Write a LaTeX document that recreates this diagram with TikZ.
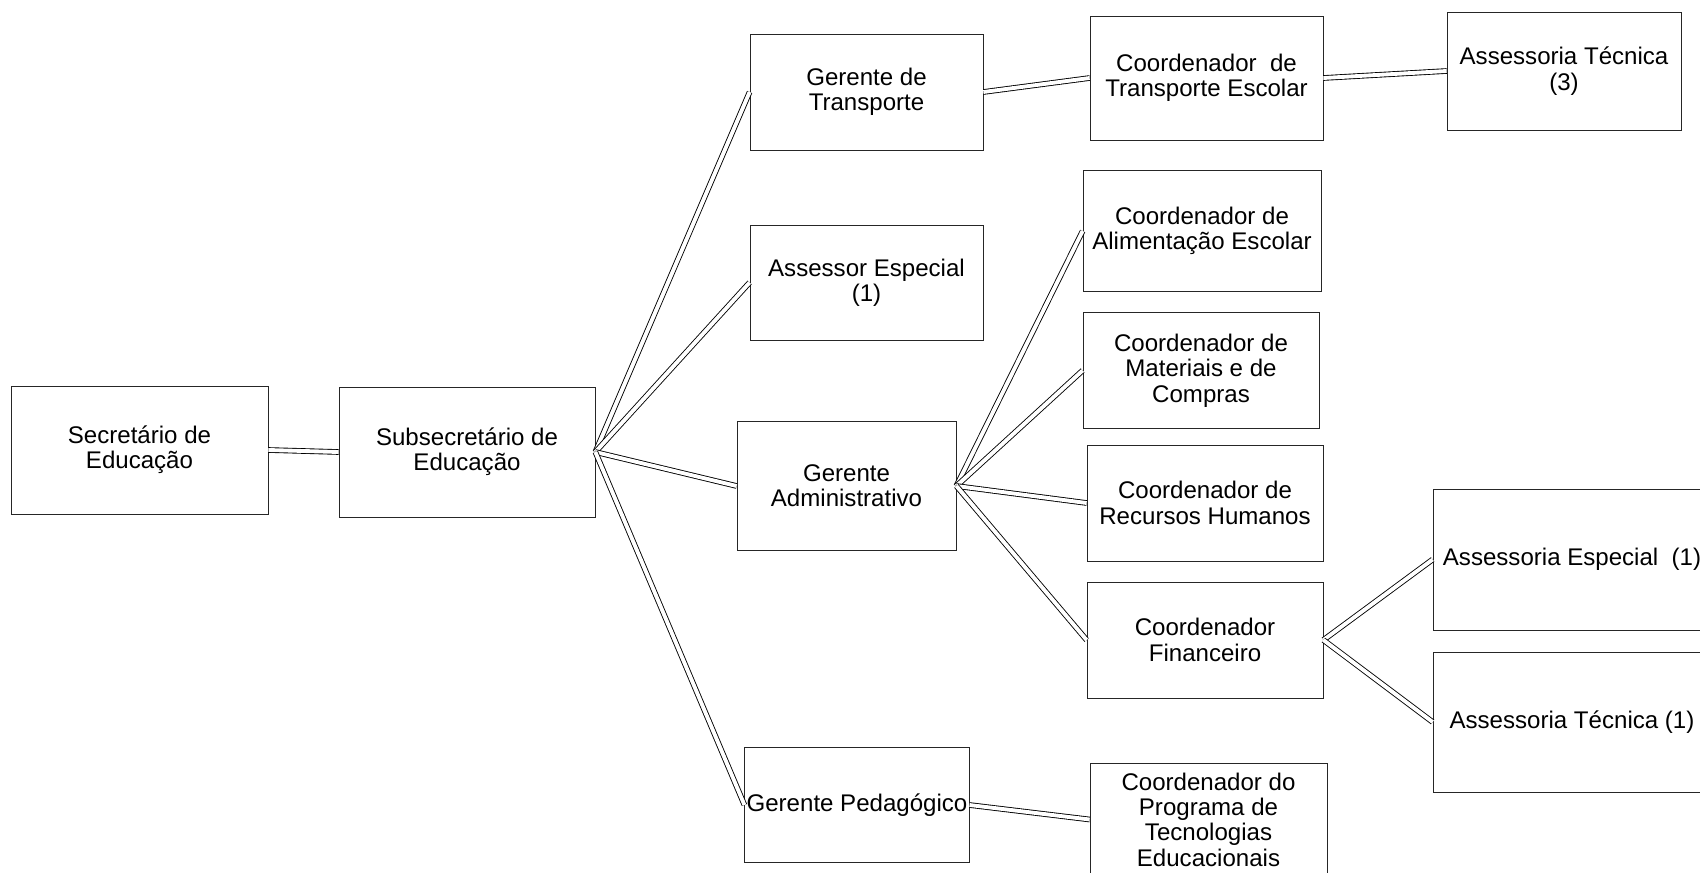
\documentclass[tikz,border=0pt]{standalone}
\usepackage{fontspec}
\setmainfont{Liberation Sans}
\usetikzlibrary{calc}
\tikzstyle{caixa}=[draw=black!85, line width=0.45pt, align=center, inner sep=1pt, font=\fontsize{13.7}{14.4}\selectfont]
\tikzstyle{liga}=[line width=0.5pt, double, double distance=2.2pt]

\begin{document}
\begin{tikzpicture}[x=0.02cm, y=-0.02cm]
	\path[use as bounding box, clip] (0,0) rectangle (1700,872);
	\node(sec)[caixa, minimum width=5.14cm, minimum height=2.56cm] at (139.5,450) {Secretário de\\Educação};
	\node(sub)[caixa, minimum width=5.12cm, minimum height=2.60cm] at (467,452) {Subsecretário de\\Educação};
	\node(gtr)[caixa, minimum width=4.66cm, minimum height=2.32cm] at (866.5,92) {Gerente de\\Transporte};
	\node(aesp)[caixa, minimum width=4.66cm, minimum height=2.30cm] at (866.5,282.5) {Assessor Especial\\(1)};
	\node(gadm)[caixa, minimum width=4.38cm, minimum height=2.58cm] at (846.5,486) {Gerente\\Administrativo};
	\node(gped)[caixa, minimum width=4.48cm, minimum height=2.30cm] at (857,805) {Gerente Pedagógico};
	\node(ctr)[caixa, minimum width=4.66cm, minimum height=2.48cm] at (1206.5,78) {Coordenador\ \ de\\Transporte Escolar};
	\node(atec3)[caixa, minimum width=4.68cm, minimum height=2.36cm] at (1564,71) {Assessoria Técnica\\(3)};
	\node(calim)[caixa, minimum width=4.76cm, minimum height=2.42cm] at (1202,231) {Coordenador de\\Alimentação Escolar};
	\node(cmat)[caixa, minimum width=4.72cm, minimum height=2.32cm] at (1201,370.5) {Coordenador de\\Materiais e de\\Compras};
	\node(crh)[caixa, minimum width=4.72cm, minimum height=2.32cm] at (1205,503) {Coordenador de\\Recursos Humanos};
	\node(cfin)[caixa, minimum width=4.72cm, minimum height=2.32cm] at (1205,640) {Coordenador\\Financeiro};
	\node(aesp1)[caixa, minimum width=5.56cm, minimum height=2.82cm] at (1572,559.5) {Assessoria Especial\ \ (1)};
	\node(atec1)[caixa, minimum width=5.56cm, minimum height=2.80cm] at (1572,722) {Assessoria Técnica (1)};
	\node(cprog)[caixa, minimum width=4.74cm, minimum height=2.26cm] at (1208.5,819.5) {Coordenador do\\Programa de\\Tecnologias\\Educacionais};

	\draw[liga] (sec.east) -- (sub.west);
	\draw[liga] (sub.east) -- (gtr.west);
	\draw[liga] (sub.east) -- (aesp.west);
	\draw[liga] (sub.east) -- (gadm.west);
	\draw[liga] (sub.east) -- (gped.west);
	\draw[liga] (gtr.east) -- (ctr.west);
	\draw[liga] (ctr.east) -- (atec3.west);
	\draw[liga] (gadm.east) -- (calim.west);
	\draw[liga] (gadm.east) -- (cmat.west);
	\draw[liga] (gadm.east) -- (crh.west);
	\draw[liga] (gadm.east) -- (cfin.west);
	\draw[liga] (cfin.east) -- (aesp1.west);
	\draw[liga] (cfin.east) -- (atec1.west);
	\draw[liga] (gped.east) -- (cprog.west);
\end{tikzpicture}
\end{document}
